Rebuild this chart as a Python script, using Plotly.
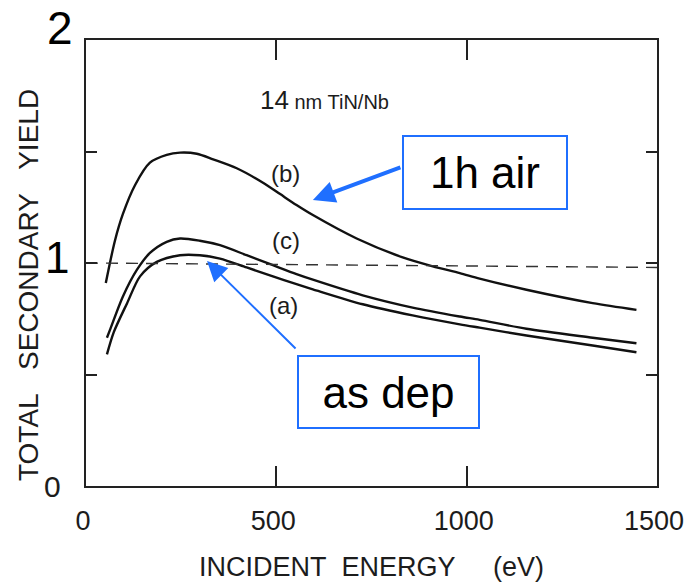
import plotly.graph_objects as go

# ---- data ----
energy_b = [52, 76, 97, 129, 168, 212, 247, 291, 334, 396, 465, 509, 553, 596, 711, 832, 911, 982, 1034, 1157, 1331, 1446]
yield_b = [0.91, 1.10, 1.22, 1.35, 1.45, 1.485, 1.495, 1.49, 1.465, 1.425, 1.36, 1.31, 1.26, 1.215, 1.11, 1.025, 0.985, 0.955, 0.93, 0.88, 0.82, 0.79]

energy_c = [55, 63, 97, 134, 168, 212, 247, 299, 352, 422, 491, 553, 596, 727, 858, 982, 1034, 1157, 1331, 1446]
yield_c = [0.665, 0.70, 0.85, 0.97, 1.045, 1.095, 1.11, 1.10, 1.08, 1.035, 0.99, 0.95, 0.925, 0.855, 0.80, 0.76, 0.745, 0.705, 0.665, 0.64]

energy_a = [55, 73, 108, 142, 186, 247, 299, 352, 422, 491, 553, 596, 727, 858, 982, 1034, 1157, 1331, 1446]
yield_a = [0.59, 0.69, 0.82, 0.94, 1.005, 1.035, 1.035, 1.02, 0.98, 0.94, 0.905, 0.882, 0.815, 0.765, 0.725, 0.71, 0.675, 0.63, 0.60]

ref_energy = [0, 1500]
ref_yield = [1.0, 0.98]

x_ticks = [0, 500, 1000, 1500]
x_ticklabels = ["0", "500", "1000", "1500"]
y_ticks = [0, 0.5, 1, 1.5, 2]

curve_labels = ["(b)", "(c)", "(a)"]
curve_label_x = [525, 525, 518]
curve_label_y = [1.40, 1.10, 0.81]

SCAN_FONT = "Liberation Sans, Arial, sans-serif"
INK = "#1c1c1c"
BLUE = "#1f6fff"
NB = "\u00a0"

fig = go.Figure()
for ex, ey in [(energy_b, yield_b), (energy_c, yield_c), (energy_a, yield_a)]:
    fig.add_trace(go.Scatter(x=ex, y=ey, mode="lines", line=dict(color="#111", width=2.4, shape="spline", smoothing=0.8),
                             showlegend=False, hoverinfo="skip"))
fig.add_trace(go.Scatter(x=ref_energy, y=ref_yield, mode="lines",
                         line=dict(color="#333", width=1.4, dash="12px,8px"), showlegend=False, hoverinfo="skip"))

annotations = []
for t, ax_, ay_ in zip(curve_labels, curve_label_x, curve_label_y):
    annotations.append(dict(x=ax_, y=ay_, xref="x", yref="y", text=t, showarrow=False,
                            font=dict(family=SCAN_FONT, size=24, color=INK)))
annotations.append(dict(x=627, y=1.73, xref="x", yref="y",
                        text="<span style='font-size:26px'>14</span> nm TiN/Nb", showarrow=False,
                        font=dict(family=SCAN_FONT, size=20, color=INK)))
# y-axis value labels
annotations.append(dict(x=0, y=0, xref="paper", yref="y", text="0", showarrow=False, xanchor="center",
                        yanchor="middle", xshift=-34, yshift=0,
                        font=dict(family=SCAN_FONT, size=30, color=INK)))
annotations.append(dict(x=0, y=1, xref="paper", yref="y", text="1", showarrow=False, xanchor="center",
                        yanchor="middle", xshift=-29, yshift=6,
                        font=dict(family="Liberation Sans, Arial", size=44, color="black")))
annotations.append(dict(x=0, y=2, xref="paper", yref="y", text="2", showarrow=False, xanchor="center",
                        yanchor="middle", xshift=-26, yshift=12,
                        font=dict(family="Liberation Sans, Arial", size=46, color="black")))
# axis titles
annotations.append(dict(x=-0.0998, y=0.4507, xref="paper", yref="paper", xanchor="center", yanchor="middle",
                        text="TOTAL" + NB * 3 + "SECONDARY" + NB * 3 + "YIELD",
                        textangle=-90, showarrow=False, font=dict(family=SCAN_FONT, size=28, color=INK)))
annotations.append(dict(x=0.5, y=-0.1816, xref="paper", yref="paper", xanchor="center", yanchor="middle",
                        text="INCIDENT" + NB * 2 + "ENERGY" + NB * 5 + "(eV)",
                        showarrow=False, font=dict(family=SCAN_FONT, size=27, color=INK)))
# callout boxes
annotations.append(dict(x=1047, y=1.406, xref="x", yref="y", text="1h air", showarrow=False,
                        bordercolor=BLUE, borderwidth=2, borderpad=2, bgcolor="white", width=158, height=67,
                        font=dict(family="Liberation Sans, Arial", size=44, color="black")))
annotations.append(dict(x=794, y=0.4215, xref="x", yref="y", text="as dep", showarrow=False,
                        bordercolor=BLUE, borderwidth=2, borderpad=2, bgcolor="white", width=175, height=66,
                        font=dict(family="Liberation Sans, Arial", size=44, color="black")))
# callout arrows
annotations.append(dict(x=596, y=1.283, xref="x", yref="y", text=" ", font=dict(size=1), ax=89, ay=-33,
                        showarrow=True, arrowhead=2, arrowsize=1.1, arrowwidth=4, arrowcolor=BLUE, standoff=0))
annotations.append(dict(x=318, y=1.009, xref="x", yref="y", text=" ", font=dict(size=1), ax=90, ay=89,
                        showarrow=True, arrowhead=2, arrowsize=2, arrowwidth=2, arrowcolor=BLUE, standoff=0))

fig.update_layout(
    width=686, height=587, autosize=False,
    margin=dict(l=86, r=29, t=40, b=101),
    paper_bgcolor="white", plot_bgcolor="white",
    annotations=annotations,
    xaxis=dict(range=[0, 1500], tickvals=x_ticks, ticktext=x_ticklabels, ticks="inside", ticklen=20,
               tickwidth=1.5, tickcolor="#222", showline=True, linecolor="#222", linewidth=2, mirror="ticks",
               showgrid=False, zeroline=False, ticklabelstandoff=10, ticklabelshift=-3,
               ticklabeloverflow="allow", automargin=False,
               tickfont=dict(family=SCAN_FONT, size=27, color=INK)),
    yaxis=dict(range=[0, 2], tickvals=y_ticks, ticks="inside", ticklen=11, tickwidth=1.5, tickcolor="#222",
               showline=True, linecolor="#222", linewidth=2, mirror="ticks", showgrid=False, zeroline=False,
               showticklabels=False, automargin=False),
)

fig.write_html("out.html", config={"displayModeBar": False, "responsive": False},
               post_script="document.body.style.margin='0';document.body.style.overflow='hidden';"
                           "document.documentElement.style.overflow='hidden';")
